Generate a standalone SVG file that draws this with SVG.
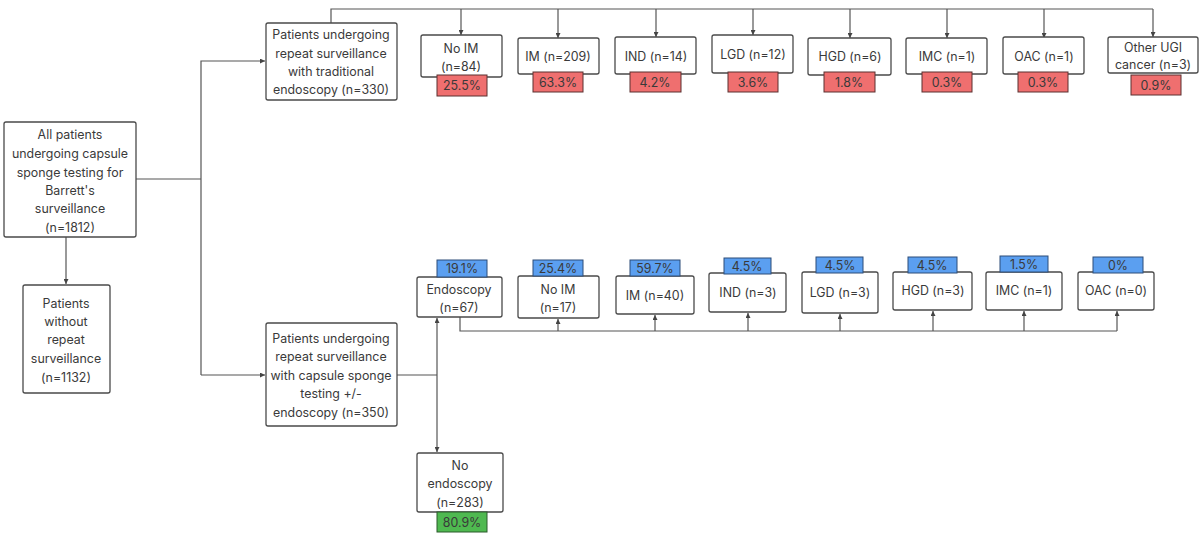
<svg xmlns="http://www.w3.org/2000/svg" width="1200" height="535" viewBox="0 0 1200 535">
<defs>
<marker id="ah" viewBox="0 0 6 6" refX="6" refY="3" markerWidth="5" markerHeight="5" markerUnits="userSpaceOnUse" orient="auto"><path d="M0,0 L6,3 L0,6 z" fill="#444"/></marker>
<style>
.box{fill:#fff;stroke:#4a4a4a;stroke-width:1.3}
.red{fill:#ef6f6f;stroke:#5a3030;stroke-width:1}
.blue{fill:#5b9ff0;stroke:#2d4d78;stroke-width:1}
.green{fill:#4fb950;stroke:#2b5a2b;stroke-width:1}
.t{font-family:Inter,"Liberation Sans",sans-serif;font-size:12.4px;fill:#3a3a3a;text-anchor:middle}
.c{fill:none;stroke:#555;stroke-width:1.2}
</style>
</defs>
<rect width="1200" height="535" fill="#fff"/>
<g id="connectors">
<path class="c" d="M136,179 H201"/>
<path class="c" d="M201,375 V61 H265" marker-end="url(#ah)"/>
<path class="c" d="M201,375 H265" marker-end="url(#ah)"/>
<path class="c" d="M66,237 V284" marker-end="url(#ah)"/>
<path class="c" d="M331,23 V9 H1153"/>
<path class="c" d="M461,9 V35" marker-end="url(#ah)"/>
<path class="c" d="M558,9 V38" marker-end="url(#ah)"/>
<path class="c" d="M656,9 V37" marker-end="url(#ah)"/>
<path class="c" d="M753,9 V35" marker-end="url(#ah)"/>
<path class="c" d="M850,9 V38" marker-end="url(#ah)"/>
<path class="c" d="M947,9 V38" marker-end="url(#ah)"/>
<path class="c" d="M1044,9 V38" marker-end="url(#ah)"/>
<path class="c" d="M1153,9 V37" marker-end="url(#ah)"/>
<path class="c" d="M397,375 H437"/>
<path class="c" d="M437,375 V318" marker-end="url(#ah)"/>
<path class="c" d="M437,375 V452" marker-end="url(#ah)"/>
<path class="c" d="M460,317 V331 H1117"/>
<path class="c" d="M558,331 V319" marker-end="url(#ah)"/>
<path class="c" d="M655,331 V315" marker-end="url(#ah)"/>
<path class="c" d="M748,331 V313" marker-end="url(#ah)"/>
<path class="c" d="M840,331 V314" marker-end="url(#ah)"/>
<path class="c" d="M933,331 V311" marker-end="url(#ah)"/>
<path class="c" d="M1024,331 V311" marker-end="url(#ah)"/>
<path class="c" d="M1117,331 V311" marker-end="url(#ah)"/>
</g>
<g id="all">
<rect class="box" x="4" y="122" width="132" height="115" rx="2"/>
<text class="t" x="70" y="139">All patients</text>
<text class="t" x="70" y="158">undergoing capsule</text>
<text class="t" x="70" y="177">sponge testing for</text>
<text class="t" x="70" y="195">Barrett's</text>
<text class="t" x="70" y="213">surveillance</text>
<text class="t" x="70" y="232">(n=1812)</text>
</g>
<g id="without">
<rect class="box" x="23" y="285" width="87" height="108" rx="2"/>
<text class="t" x="66" y="308">Patients</text>
<text class="t" x="66" y="326">without</text>
<text class="t" x="66" y="344">repeat</text>
<text class="t" x="66" y="363">surveillance</text>
<text class="t" x="66" y="382">(n=1132)</text>
</g>
<g id="traditional">
<rect class="box" x="266" y="23" width="131" height="77" rx="2"/>
<text class="t" x="331" y="39">Patients undergoing</text>
<text class="t" x="331" y="58">repeat surveillance</text>
<text class="t" x="331" y="76">with traditional</text>
<text class="t" x="331" y="94">endoscopy (n=330)</text>
</g>
<g id="t-noim">
<rect class="box" x="421" y="35" width="81" height="42" rx="2"/>
<text class="t" x="461" y="53">No IM</text>
<text class="t" x="461" y="71">(n=84)</text>
<rect class="red" x="437" y="75" width="50" height="21"/>
<text class="t" x="462" y="90">25.5%</text>
</g>
<g id="t-im">
<rect class="box" x="518" y="38" width="81" height="36" rx="2"/>
<text class="t" x="558" y="61">IM (n=209)</text>
<rect class="red" x="533" y="72" width="50" height="20"/>
<text class="t" x="558" y="87">63.3%</text>
</g>
<g id="t-ind">
<rect class="box" x="615" y="37" width="81" height="37" rx="2"/>
<text class="t" x="656" y="61">IND (n=14)</text>
<rect class="red" x="630" y="72" width="51" height="20"/>
<text class="t" x="655" y="87">4.2%</text>
</g>
<g id="t-lgd">
<rect class="box" x="712" y="35" width="81" height="38" rx="2"/>
<text class="t" x="753" y="59">LGD (n=12)</text>
<rect class="red" x="728" y="72" width="50" height="20"/>
<text class="t" x="753" y="87">3.6%</text>
</g>
<g id="t-hgd">
<rect class="box" x="808" y="38" width="83" height="37" rx="2"/>
<text class="t" x="850" y="61">HGD (n=6)</text>
<rect class="red" x="824" y="72" width="51" height="20"/>
<text class="t" x="849" y="87">1.8%</text>
</g>
<g id="t-imc">
<rect class="box" x="906" y="38" width="81" height="36" rx="2"/>
<text class="t" x="947" y="61">IMC (n=1)</text>
<rect class="red" x="922" y="72" width="50" height="20"/>
<text class="t" x="947" y="87">0.3%</text>
</g>
<g id="t-oac">
<rect class="box" x="1003" y="37" width="81" height="37" rx="2"/>
<text class="t" x="1044" y="61">OAC (n=1)</text>
<rect class="red" x="1018" y="72" width="50" height="20"/>
<text class="t" x="1043" y="87">0.3%</text>
</g>
<g id="t-other">
<rect class="box" x="1108" y="37" width="90" height="36" rx="2"/>
<text class="t" x="1153" y="52">Other UGI</text>
<text class="t" x="1153" y="69">cancer (n=3)</text>
<rect class="red" x="1131" y="75" width="50" height="20"/>
<text class="t" x="1156" y="90">0.9%</text>
</g>
<g id="sponge">
<rect class="box" x="266" y="323" width="131" height="103" rx="2"/>
<text class="t" x="331" y="343">Patients undergoing</text>
<text class="t" x="331" y="361">repeat surveillance</text>
<text class="t" x="331" y="380">with capsule sponge</text>
<text class="t" x="331" y="398">testing +/-</text>
<text class="t" x="331" y="417">endoscopy (n=350)</text>
</g>
<g id="s-endo">
<rect class="box" x="417" y="277" width="85" height="40" rx="2"/>
<text class="t" x="459" y="294">Endoscopy</text>
<text class="t" x="459" y="312">(n=67)</text>
<rect class="blue" x="437" y="260" width="50" height="17"/>
<text class="t" x="462" y="273">19.1%</text>
</g>
<g id="s-noim">
<rect class="box" x="518" y="276" width="81" height="42" rx="2"/>
<text class="t" x="558" y="294">No IM</text>
<text class="t" x="558" y="312">(n=17)</text>
<rect class="blue" x="533" y="260" width="50" height="16"/>
<text class="t" x="558" y="273">25.4%</text>
</g>
<g id="s-im">
<rect class="box" x="616" y="276" width="78" height="38" rx="2"/>
<text class="t" x="655" y="300">IM (n=40)</text>
<rect class="blue" x="630" y="260" width="50" height="16"/>
<text class="t" x="655" y="273">59.7%</text>
</g>
<g id="s-ind">
<rect class="box" x="709" y="273" width="77" height="39" rx="2"/>
<text class="t" x="748" y="297">IND (n=3)</text>
<rect class="blue" x="724" y="258" width="47" height="16"/>
<text class="t" x="747" y="271">4.5%</text>
</g>
<g id="s-lgd">
<rect class="box" x="802" y="272" width="76" height="41" rx="2"/>
<text class="t" x="840" y="297">LGD (n=3)</text>
<rect class="blue" x="816" y="257" width="47" height="16"/>
<text class="t" x="840" y="270">4.5%</text>
</g>
<g id="s-hgd">
<rect class="box" x="893" y="272" width="79" height="38" rx="2"/>
<text class="t" x="933" y="295">HGD (n=3)</text>
<rect class="blue" x="908" y="257" width="49" height="16"/>
<text class="t" x="932" y="270">4.5%</text>
</g>
<g id="s-imc">
<rect class="box" x="986" y="272" width="76" height="38" rx="2"/>
<text class="t" x="1024" y="295">IMC (n=1)</text>
<rect class="blue" x="1000" y="256" width="48" height="16"/>
<text class="t" x="1024" y="269">1.5%</text>
</g>
<g id="s-oac">
<rect class="box" x="1078" y="272" width="76" height="38" rx="2"/>
<text class="t" x="1116" y="295">OAC (n=0)</text>
<rect class="blue" x="1093" y="257" width="50" height="16"/>
<text class="t" x="1118" y="270">0%</text>
</g>
<g id="s-noendo">
<rect class="box" x="417" y="453" width="86" height="59" rx="2"/>
<text class="t" x="460" y="470">No</text>
<text class="t" x="460" y="488">endoscopy</text>
<text class="t" x="460" y="507">(n=283)</text>
<rect class="green" x="437" y="512" width="50" height="20"/>
<text class="t" x="462" y="527">80.9%</text>
</g>
</svg>
